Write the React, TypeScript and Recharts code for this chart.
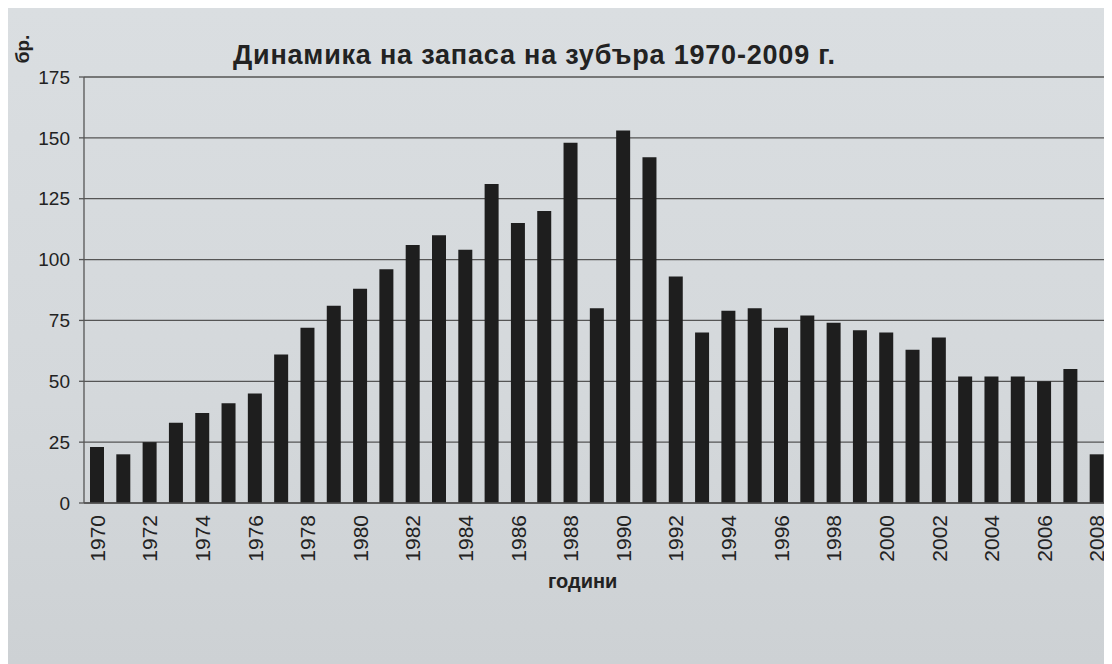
import { BarChart, Bar, XAxis, YAxis, CartesianGrid } from "recharts";

const years = [
  "1970", "1971", "1972", "1973", "1974", "1975", "1976", "1977", "1978", "1979",
  "1980", "1981", "1982", "1983", "1984", "1985", "1986", "1987", "1988", "1989",
  "1990", "1991", "1992", "1993", "1994", "1995", "1996", "1997", "1998", "1999",
  "2000", "2001", "2002", "2003", "2004", "2005", "2006", "2007", "2008",
];

const heads = [
  23, 20, 25, 33, 37, 41, 45, 61, 72, 81,
  88, 96, 106, 110, 104, 131, 115, 120, 148, 80,
  153, 142, 93, 70, 79, 80, 72, 77, 74, 71,
  70, 63, 68, 52, 52, 52, 50, 55, 20,
];

const yTicks = [0, 25, 50, 75, 100, 125, 150, 175];

const data = years.map((y, i) => ({ year: y, count: heads[i] }));

const font = "'Liberation Sans', Arial, sans-serif";

const YearTick = (props: any) => {
  const { x, y, payload } = props;
  const ty = y + 10;
  return (
    <text
      x={x}
      y={ty}
      transform={`rotate(-90 ${x} ${ty})`}
      textAnchor="end"
      dominantBaseline="central"
      fontSize={21}
      fontFamily={font}
      fill="#222"
    >
      {payload.value}
    </text>
  );
};

export default function App() {
  return (
    <div
      style={{
        position: "relative",
        width: 1104,
        height: 656,
        background: "linear-gradient(180deg, #dadee1 0%, #d4d8db 60%, #cdd1d4 100%)",
        fontFamily: font,
        color: "#222",
        overflow: "hidden",
      }}
    >
      <div
        style={{
          position: "absolute",
          left: 225,
          top: 32,
          fontSize: 27,
          letterSpacing: 0.8,
          fontWeight: "bold",
          whiteSpace: "nowrap",
        }}
      >
        Динамика на запаса на зубъра 1970-2009 г.
      </div>
      <div
        style={{
          position: "absolute",
          left: -3,
          top: 30,
          width: 36,
          textAlign: "center",
          fontSize: 19,
          fontWeight: "bold",
          transform: "rotate(-90deg)",
        }}
      >
        бр.
      </div>
      <div
        style={{
          position: "absolute",
          left: 540,
          top: 562,
          fontSize: 20,
          fontWeight: "bold",
        }}
      >
        години
      </div>
      <BarChart
        width={1104}
        height={656}
        data={data}
        margin={{ top: 69, right: 2, bottom: 101, left: 0 }}
        barCategoryGap={0}
      >
        <CartesianGrid vertical={false} stroke="#555" strokeWidth={1.3} />
        <XAxis
          dataKey="year"
          interval={1}
          tickLine={false}
          tickSize={0}
          height={60}
          axisLine={{ stroke: "#555", strokeWidth: 1.3 }}
          tick={<YearTick />}
        />
        <YAxis
          width={76}
          domain={[0, 175]}
          ticks={yTicks}
          tickLine={{ stroke: "#555", strokeWidth: 1.3 }}
          tickSize={5}
          tickMargin={9}
          axisLine={{ stroke: "#555", strokeWidth: 1.3 }}
          tick={{ fontSize: 19, fill: "#222", fontFamily: font }}
        />
        <Bar dataKey="count" fill="#1e1e1e" barSize={14} isAnimationActive={false} />
      </BarChart>
    </div>
  );
}
